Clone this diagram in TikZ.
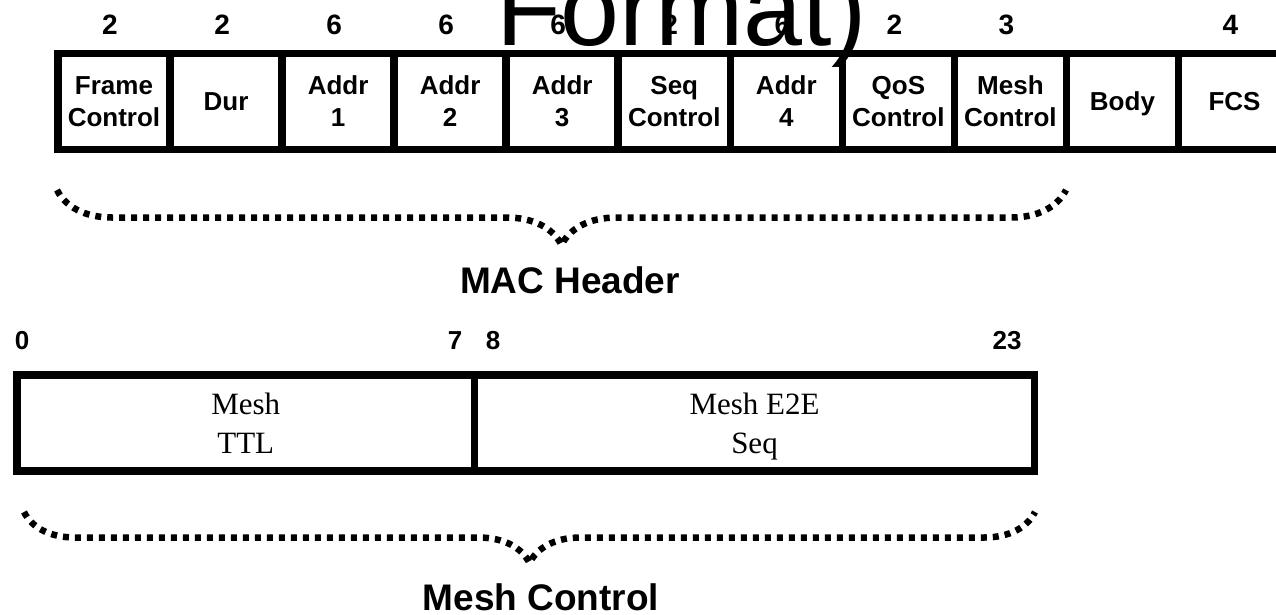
\documentclass[tikz,border=0pt]{standalone}
\usepackage{fontspec}
\setmainfont{Liberation Sans}
\newfontfamily\timesfont{Liberation Serif}
\usetikzlibrary{decorations.pathreplacing}

\begin{document}
\begin{tikzpicture}[x=1pt,y=-1pt,
    field/.style={draw,line width=7.5pt,minimum height=96pt,inner sep=0pt,align=center,
        text depth=0pt,font=\bfseries\fontsize{26}{32}\selectfont},
    bits/.style={inner sep=0pt,font=\bfseries\fontsize{28}{30}\selectfont},
    dotbrace/.style={decorate,decoration={brace,mirror,amplitude=#1},
        line width=6.5pt,dash pattern=on 6pt off 6pt}]
    \useasboundingbox (0,0) rectangle (1276,614);
    % frame fields
    \foreach \i/\name/\txt in {0/fc/{Frame\\Control},1/dur/Dur,2/aone/{Addr\\1},3/atwo/{Addr\\2},
        4/athree/{Addr\\3},5/sc/{Seq\\Control},6/afour/{Addr\\4},7/qos/{QoS\\Control},
        8/mc/{Mesh\\Control},9/body/Body,10/fcs/FCS}
        \node[field,minimum width=112.05pt] (\name) at (114+112.05*\i,101.5) {\txt};
    % octets
    \foreach \i/\n in {0/2,1/2,2/6,3/6,4/6,5/2,6/6,7/2,8/3,10/4}
        \node[bits] (len\i) at (110+112.05*\i,25) {\n};
    \node[anchor=base west,inner sep=0pt,font=\fontsize{106}{110}\selectfont] (title) at (496,45) {Format)};

    \coordinate (hl) at (57,190);
    \coordinate (hr) at (1066,190);
    \draw[dotbrace=55pt] (hl) -- (hr);
    \node[font=\bfseries\fontsize{37}{40}\selectfont] (mac) at (570,280) {MAC Header};

    % mesh control field
    \node[field,font=\timesfont\fontsize{31}{39}\selectfont,minimum width=457.5pt] (ttl) at (245.75,423) {Mesh\\TTL};
    \node[field,font=\timesfont\fontsize{31}{39}\selectfont,minimum width=560pt] (e2e) at (754.5,423) {Mesh E2E\\Seq};
    \node[bits,font=\bfseries\fontsize{26}{30}\selectfont] (b0) at (22,341) {0};
    \node[bits,font=\bfseries\fontsize{26}{30}\selectfont] (b7) at (455,341) {7};
    \node[bits,font=\bfseries\fontsize{26}{30}\selectfont] (b8) at (493,341) {8};
    \node[bits,font=\bfseries\fontsize{26}{30}\selectfont] (b23) at (1007,341) {23};

    \coordinate (ml) at (24,512);
    \coordinate (mr) at (1035,512);
    \draw[dotbrace=51pt] (ml) -- (mr);
    \node[font=\bfseries\fontsize{37}{40}\selectfont] (mesh) at (541,597) {Mesh Control};
\end{tikzpicture}
\end{document}
